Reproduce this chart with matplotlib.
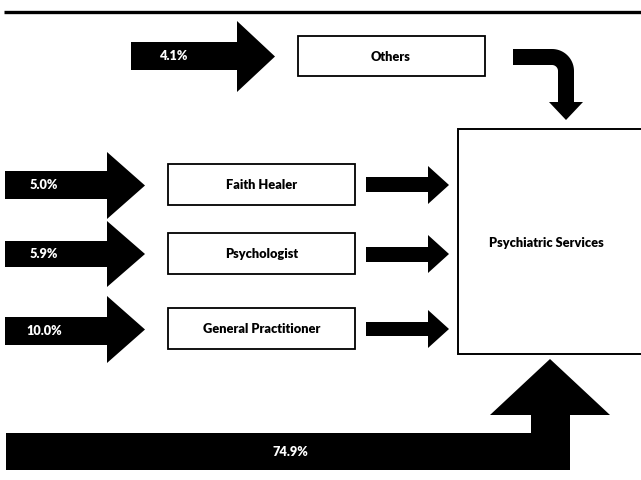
import numpy as np
import matplotlib
matplotlib.use("Agg")
import matplotlib.pyplot as plt
from matplotlib.patches import Polygon, Rectangle

# ---- data ----
categories = ["Others", "Faith Healer", "Psychologist", "General Practitioner"]
percents = [4.1, 5.0, 5.9, 10.0]
direct_percent = 74.9
target = "Psychiatric Services"

FONT = "Lato"
W, H = 641, 481
fig = plt.figure(figsize=(W / 100, H / 100), dpi=100)
ax = fig.add_axes([0, 0, 1, 1])
ax.set_xlim(0, W)
ax.set_ylim(H, 0)
ax.axis("off")


def right_arrow(x0, xb, xt, sy0, sy1, hy0, hy1):
    yc = (hy0 + hy1) / 2
    pts = [(x0, sy0), (xb, sy0), (xb, hy0), (xt, yc), (xb, hy1), (xb, sy1), (x0, sy1)]
    ax.add_patch(Polygon(pts, closed=True, fc="black", ec="none"))


def box(x0, y0, x1, y1, lw=1.3):
    ax.add_patch(Rectangle((x0, y0), x1 - x0, y1 - y0, fc="white", ec="black", lw=lw))


def label(x, y, s, color="black", size=9.2):
    ax.text(x, y, s, ha="center", va="center", color=color, fontsize=size,
            fontweight="heavy", family=FONT)


# top rule
ax.plot([4, 641], [13, 13], color="black", lw=2.4, solid_capstyle="butt")

# Others row
right_arrow(131, 237, 275, 43, 71, 22, 93)
label(174, 56, f"{percents[0]:.1f}%", color="white")
box(298, 37, 485, 77)
label(391, 57, categories[0])

# curved arrow from Others down to Psychiatric Services
cx, cy, ro, ri = 552, 72, 22, 6
t = np.linspace(0, np.pi / 2, 20)
outer = [(cx + ro * np.sin(a), cy - ro * np.cos(a)) for a in t]
inner = [(cx + ri * np.sin(a), cy - ri * np.cos(a)) for a in t[::-1]]
pts = [(513, 50)] + outer + [(574, 103), (583, 103), (566, 121), (549, 103), (558, 103)] + inner + [(513, 66)]
ax.add_patch(Polygon(pts, closed=True, fc="black", ec="none"))

# three middle rows
rows = [
    dict(sy=(172, 200), hy=(153, 220), box=(165, 206), sm=(178, 193), smh=(167, 205)),
    dict(sy=(242, 268), hy=(222, 288), box=(234, 275), sm=(248, 263), smh=(236, 274)),
    dict(sy=(318, 346), hy=(297, 364), box=(309, 350), sm=(323, 337), smh=(311, 349)),
]
for i, r in enumerate(rows):
    right_arrow(5, 107, 145, r["sy"][0], r["sy"][1], r["hy"][0], r["hy"][1])
    label(44, (r["sy"][0] + r["sy"][1]) / 2 - 1, f"{percents[i + 1]:.1f}%", color="white")
    box(168, r["box"][0], 355, r["box"][1])
    label(262, (r["box"][0] + r["box"][1]) / 2, categories[i + 1])
    right_arrow(366, 428, 449, r["sm"][0], r["sm"][1], r["smh"][0], r["smh"][1])

# Psychiatric Services box
box(458, 130, 650, 355, lw=1.4)
label(546, 243, target)

# big bottom arrow
pts = [(6, 434), (531, 434), (531, 416), (490, 416), (550, 360), (610, 416),
       (570, 416), (570, 471), (6, 471)]
ax.add_patch(Polygon(pts, closed=True, fc="black", ec="none"))
label(290, 452, f"{direct_percent:.1f}%", color="white")

fig.savefig("out.png", dpi=100, facecolor="white")
